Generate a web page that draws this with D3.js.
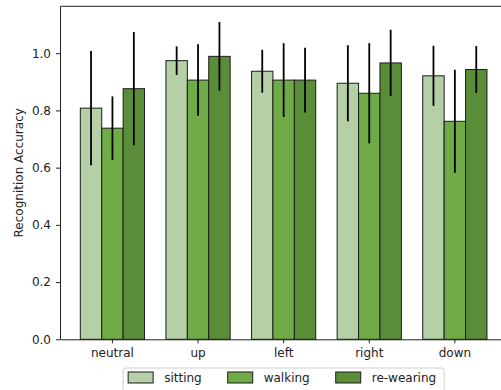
<!DOCTYPE html>
<html>
<head>
  <meta charset="utf-8">
  <style>
  body {
    margin: 0;
    background: #ffffff;
    font-family: "DejaVu Sans", sans-serif;
  }
  .axis text {
    font-family: "DejaVu Sans", sans-serif;
    font-size: 12px;
    fill: #222;
  }
  .axis path, .axis line {
    stroke: #222;
  }
  .legend text {
    font-size: 12px;
    fill: #222;
  }
  </style>
</head>
<body>
  <div id="chart"></div>

  <script src="https://d3js.org/d3.v7.min.js"></script>
  <script>
  // values
  var poses = ["neutral", "up", "left", "right", "down"];
  var conditions = ["sitting", "walking", "re-wearing"];
  var sitting   = [0.808, 0.974, 0.937, 0.895, 0.921];
  var walking   = [0.738, 0.906, 0.906, 0.860, 0.762];
  var rewearing = [0.876, 0.989, 0.906, 0.966, 0.943];
  var sittingErr   = [0.200, 0.050, 0.075, 0.133, 0.105];
  var walkingErr   = [0.111, 0.125, 0.129, 0.175, 0.180];
  var rewearingErr = [0.198, 0.120, 0.113, 0.116, 0.082];
  var yTicks = [0.0, 0.2, 0.4, 0.6, 0.8, 1.0];
  var colors = ["#b5cfa6", "#6fab46", "#5a8d38"];

  var means = [sitting, walking, rewearing];
  var errs = [sittingErr, walkingErr, rewearingErr];

  var data = [];
  poses.forEach(function(p, i){
    conditions.forEach(function(c, j){
      data.push({pose: p, cond: c, value: means[j][i], err: errs[j][i]});
    });
  });

  var W = 501, H = 390;
  var margin = {top: 6.3, left: 60};
  var plotW = 447.3, plotH = 333;

  var svg = d3.select("#chart").append("svg")
      .attr("width", W)
      .attr("height", H);

  var g = svg.append("g")
      .attr("transform", "translate(" + margin.left + "," + margin.top + ")");

  var x = d3.scaleBand()
    .domain(poses)
    .range([0, plotW])
    .paddingInner(0.25)
    .paddingOuter(0.2375);

  var xs = d3.scaleBand()
    .domain(conditions)
    .range([0, x.bandwidth()]);

  var y = d3.scaleLinear()
    .domain([0, 1.164])
    .range([plotH, 0]);

  var color = d3.scaleOrdinal().domain(conditions).range(colors);

  // bars
  g.selectAll("rect.bar")
      .data(data)
    .enter().append("rect")
      .attr("class", "bar")
      .attr("x", function(d){ return x(d.pose) + xs(d.cond); })
      .attr("y", function(d){ return y(d.value); })
      .attr("width", xs.bandwidth())
      .attr("height", function(d){ return plotH - y(d.value); })
      .style("fill", function(d){ return color(d.cond); })
      .style("stroke", "#1c1c1c")
      .style("stroke-width", 1);

  // error bars
  g.selectAll("line.err")
      .data(data)
    .enter().append("line")
      .attr("class", "err")
      .attr("x1", function(d){ return x(d.pose) + xs(d.cond) + xs.bandwidth() / 2; })
      .attr("x2", function(d){ return x(d.pose) + xs(d.cond) + xs.bandwidth() / 2; })
      .attr("y1", function(d){ return y(d.value - d.err); })
      .attr("y2", function(d){ return y(d.value + d.err); })
      .style("stroke", "#000")
      .style("stroke-width", 1.8);

  // axes
  g.append("g")
      .attr("class", "axis")
      .attr("transform", "translate(0," + plotH + ")")
      .call(d3.axisBottom(x).tickSize(4).tickPadding(5).tickSizeOuter(0));

  g.append("g")
      .attr("class", "axis")
      .call(d3.axisLeft(y).tickValues(yTicks).tickFormat(d3.format(".1f")).tickSize(4).tickPadding(5).tickSizeOuter(0));

  // top spine
  g.append("line")
      .attr("x1", 0).attr("x2", plotW)
      .attr("y1", 0).attr("y2", 0)
      .style("stroke", "#222");

  svg.append("text")
      .attr("transform", "translate(18.5," + (margin.top + plotH / 2) + ") rotate(-90)")
      .attr("text-anchor", "middle")
      .attr("dominant-baseline", "central")
      .style("font-size", "12px")
      .style("fill", "#222")
      .text("Recognition Accuracy");

  // legend
  var legend = svg.append("g").attr("class", "legend");
  var box = legend.append("rect")
      .attr("y", 368)
      .attr("height", 40)
      .attr("rx", 3)
      .style("fill", "#fff")
      .style("stroke", "#d0d0d0");

  var handleW = 25, handleGap = 11, colGap = 26, pad = 5;
  var items = legend.selectAll("g.item")
      .data(conditions)
    .enter().append("g")
      .attr("class", "item");
  items.append("rect")
      .attr("y", 372)
      .attr("width", handleW)
      .attr("height", 11)
      .style("fill", function(d){ return color(d); })
      .style("stroke", "#1c1c1c")
      .style("stroke-width", 1);
  items.append("text")
      .attr("x", handleW + handleGap)
      .attr("y", 377.5)
      .attr("dominant-baseline", "central")
      .text(function(d){ return d; });

  var offsets = [], cur = pad;
  items.each(function(){
    offsets.push(cur);
    var tw = d3.select(this).select("text").node().getComputedTextLength();
    cur += handleW + handleGap + tw + colGap;
  });
  var total = cur - colGap + 8;
  var left = margin.left + plotW / 2 - total / 2;
  items.attr("transform", function(d, i){ return "translate(" + (left + offsets[i]) + ",0)"; });
  box.attr("x", left).attr("width", total);
  </script>
</body>
</html>
